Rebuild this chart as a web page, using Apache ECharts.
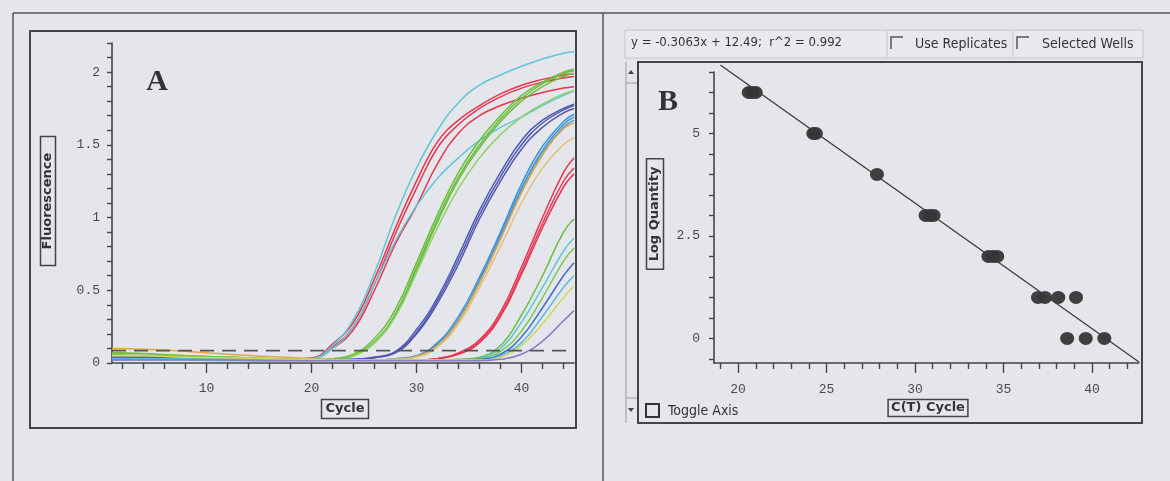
<!DOCTYPE html>
<html>
<head>
<meta charset="utf-8">
<script src="https://cdn.jsdelivr.net/npm/echarts@6/dist/echarts.min.js"></script>
<style>
  html, body { margin: 0; padding: 0; background: #e4e6eb; }
  #chart { width: 1170px; height: 481px; }
</style>
</head>
<body>
<div id="chart"></div>
<script>
// ---- Panel A: amplification curves (fluorescence per cycle) ----
const CYCLES = [1, 4, 8, 12, 16, 20, 22, 24, 26, 28, 30, 32, 34, 36, 38, 40, 42, 44, 45];

// highest standard (log quantity 6)
const R6A = [0.06,0.05,0.04,0.03,0.025,0.035, 0.13,0.28,0.58,0.93,1.25,1.52,1.67,1.77,1.85,1.91,1.95,1.98,1.99];
const R6B = [0.04,0.04,0.03,0.025,0.02,0.03, 0.11,0.25,0.54,0.89,1.20,1.48,1.64,1.75,1.83,1.89,1.93,1.96,1.97];
const R6C = [0.05,0.045,0.035,0.03,0.025,0.03, 0.10,0.23,0.50,0.82,1.08,1.37,1.58,1.70,1.77,1.82,1.86,1.89,1.90];
const C6A = [0.03,0.03,0.025,0.02,0.02,0.03, 0.12,0.30,0.62,1.01,1.34,1.60,1.79,1.91,1.98,2.04,2.09,2.13,2.14];
const C6B = [0.02,0.02,0.02,0.015,0.015,0.025, 0.10,0.25,0.54,0.84,1.08,1.27,1.41,1.53,1.62,1.69,1.77,1.84,1.87];
// log quantity 5
const G5A = [0.07,0.06,0.05,0.04,0.03,0.02, 0.03,0.06,0.17,0.37,0.69,1.02,1.31,1.53,1.70,1.84,1.93,2.00,2.02];
const G5B = [0.05,0.05,0.04,0.03,0.025,0.02, 0.025,0.055,0.15,0.34,0.66,0.99,1.28,1.50,1.68,1.82,1.92,1.99,2.01];
const G5C = [0.04,0.04,0.035,0.03,0.02,0.02, 0.025,0.05,0.14,0.33,0.64,0.97,1.26,1.48,1.66,1.80,1.90,1.97,1.99];
const G5D = [0.03,0.03,0.03,0.02,0.02,0.015, 0.02,0.05,0.14,0.32,0.62,0.93,1.20,1.41,1.57,1.69,1.78,1.85,1.87];
// log quantity 4
const B4A = [0.05,0.045,0.04,0.03,0.025,0.02, 0.02,0.025,0.04,0.08,0.23,0.45,0.74,1.05,1.31,1.53,1.67,1.75,1.78];
const B4B = [0.04,0.04,0.03,0.025,0.02,0.02, 0.02,0.02,0.035,0.075,0.21,0.43,0.71,1.02,1.28,1.50,1.65,1.74,1.77];
const B4C = [0.06,0.05,0.04,0.03,0.025,0.02, 0.02,0.025,0.04,0.07,0.20,0.41,0.68,0.99,1.25,1.47,1.62,1.72,1.75];
// log quantity 3
const A3A = [0.05,0.045,0.04,0.03,0.025,0.02, 0.02,0.02,0.02,0.03,0.05,0.14,0.32,0.59,0.90,1.23,1.49,1.66,1.71];
const A3B = [0.04,0.04,0.035,0.03,0.02,0.02, 0.02,0.02,0.02,0.025,0.045,0.13,0.30,0.57,0.88,1.20,1.46,1.64,1.69];
const A3C = [0.06,0.05,0.04,0.03,0.025,0.02, 0.02,0.02,0.02,0.025,0.045,0.12,0.29,0.55,0.86,1.18,1.44,1.62,1.67];
const O3  = [0.10,0.095,0.08,0.06,0.045,0.03, 0.025,0.02,0.02,0.025,0.045,0.12,0.29,0.55,0.85,1.17,1.43,1.61,1.65];
const T3  = [0.06,0.06,0.05,0.04,0.03,0.025, 0.02,0.02,0.02,0.025,0.04,0.11,0.27,0.52,0.80,1.10,1.34,1.50,1.55];
// log quantity 2
const R2A = [0.04,0.04,0.035,0.03,0.02,0.02, 0.02,0.02,0.02,0.02,0.02,0.03,0.07,0.16,0.35,0.66,1.00,1.31,1.41];
const R2B = [0.05,0.045,0.04,0.03,0.025,0.02, 0.02,0.02,0.02,0.02,0.02,0.03,0.065,0.15,0.33,0.63,0.96,1.25,1.34];
const R2C = [0.03,0.03,0.03,0.025,0.02,0.02, 0.02,0.02,0.02,0.02,0.02,0.03,0.06,0.14,0.32,0.61,0.93,1.21,1.30];
// log quantities 1 and 0
const L1 = [0.07,0.065,0.05,0.04,0.03,0.025, 0.02,0.02,0.02,0.02,0.02,0.02,0.025,0.04,0.12,0.33,0.60,0.90,0.99];
const L2 = [0.05,0.05,0.04,0.035,0.03,0.02, 0.02,0.02,0.02,0.02,0.02,0.02,0.02,0.035,0.10,0.28,0.52,0.77,0.86];
const L3 = [0.06,0.05,0.045,0.04,0.03,0.025, 0.02,0.02,0.02,0.02,0.02,0.02,0.02,0.03,0.08,0.22,0.45,0.70,0.79];
const L4 = [0.04,0.04,0.035,0.03,0.025,0.02, 0.02,0.02,0.02,0.02,0.02,0.02,0.02,0.025,0.06,0.18,0.38,0.60,0.69];
const L5 = [0.03,0.03,0.03,0.025,0.02,0.02, 0.02,0.02,0.02,0.02,0.02,0.02,0.02,0.02,0.05,0.14,0.32,0.52,0.60];
const L6 = [0.05,0.05,0.04,0.035,0.03,0.025, 0.02,0.02,0.02,0.02,0.02,0.02,0.02,0.02,0.04,0.12,0.27,0.45,0.53];
const L7 = [0.02,0.02,0.02,0.02,0.015,0.015, 0.015,0.015,0.015,0.015,0.015,0.015,0.015,0.015,0.025,0.06,0.15,0.29,0.36];

const THRESHOLD = 0.085;

const A_X_MAJOR = [10, 20, 30, 40];
const A_X_MINOR = [2, 4, 6, 8, 12, 14, 16, 18, 22, 24, 26, 28, 32, 34, 36, 38, 42, 44];
const A_Y_TICKS = [0, 0.1, 0.2, 0.3, 0.4, 0.5, 0.6, 0.7, 0.8, 0.9, 1, 1.1, 1.2, 1.3, 1.4, 1.5, 1.6, 1.7, 1.8, 1.9, 2, 2.1, 2.2];
const A_Y_LABELS = [0, 0.5, 1, 1.5, 2];

// ---- Panel B: standard curve ----
const STD_CT   = [20.6, 20.8, 21.0, 24.25, 24.4, 27.85, 30.6, 30.85, 31.05, 34.15, 34.4, 34.65, 36.95, 37.35, 38.1, 39.1, 38.6, 39.65, 40.7];
const STD_LOGQ = [6, 6, 6, 5, 5, 4, 3, 3, 3, 2, 2, 2, 1, 1, 1, 1, 0, 0, 0];
const FIT_SLOPE = -0.3063;
const FIT_INTERCEPT = 12.49;
const FIT_R2 = 0.992;
const FIT_X = [19, 42.66];

const B_X_MAJOR = [20, 25, 30, 35, 40];
const B_X_MINOR = [19, 21, 22, 23, 24, 26, 27, 28, 29, 31, 32, 33, 34, 36, 37, 38, 39, 41, 42];
const B_Y_TICKS = [-0.5, 0, 0.5, 1, 1.5, 2, 2.5, 3, 3.5, 4, 4.5, 5, 5.5, 6, 6.5];
const B_Y_LABELS = [0, 2.5, 5];

// curve colours
const RED = '#e8364e', CYAN = '#62c6d6', GREEN = '#6cbf3e', LGREEN = '#8fd06a',
      VIOLET = '#4f5cb6', AZURE = '#3f93da', ORANGE = '#e6a444', TAN = '#e2c27a',
      YELLOW = '#d6d65a', PURPLE = '#8a78c8', BLUE = '#3d6fd0';

const CURVES = [
  [R6A, RED], [R6B, RED], [R6C, RED], [C6A, CYAN], [C6B, CYAN],
  [G5A, GREEN], [G5B, GREEN], [G5C, GREEN], [G5D, LGREEN],
  [B4A, VIOLET], [B4B, VIOLET], [B4C, '#5a56b0'],
  [A3A, AZURE], [A3B, AZURE], [A3C, '#4aa0e0'], [O3, ORANGE], [T3, TAN],
  [R2A, RED], [R2B, '#e8406a'], [R2C, RED],
  [L1, GREEN], [L2, CYAN], [L3, '#7cc850'], [L4, BLUE], [L5, '#58b8e0'], [L6, YELLOW], [L7, PURPLE]
];

const AXIS_COLOR = '#454545';
const MONO = "'Liberation Mono', 'DejaVu Sans Mono', monospace";
const NARROW = "'Liberation Sans Narrow', 'DejaVu Sans Condensed', 'Liberation Sans', sans-serif";
const BOLD_SANS = "'DejaVu Sans', 'Liberation Sans', sans-serif";

function tickAxis(gridIndex, min, max, values, len, labels, margin) {
  return {
    type: 'value', gridIndex, min, max, position: 'bottom',
    axisLine: { show: !!labels, onZero: false, lineStyle: { color: AXIS_COLOR, width: 1.6 } },
    axisTick: { show: true, customValues: values, length: len, lineStyle: { color: AXIS_COLOR, width: 1.4 } },
    axisLabel: labels ? { customValues: labels, margin, color: '#4a4a4a', fontFamily: MONO, fontSize: 13 } : { show: false },
    splitLine: { show: false }
  };
}
function yTickAxis(gridIndex, min, max, values, labels, margin) {
  return {
    type: 'value', gridIndex, min, max, position: 'left',
    axisLine: { show: true, onZero: false, lineStyle: { color: AXIS_COLOR, width: 1.6 } },
    axisTick: { show: true, customValues: values, length: 5, lineStyle: { color: AXIS_COLOR, width: 1.4 } },
    axisLabel: { customValues: labels, margin, color: '#4a4a4a', fontFamily: MONO, fontSize: 13 },
    splitLine: { show: false }
  };
}

const series = CURVES.map(([vals, color]) => ({
  type: 'line', xAxisIndex: 0, yAxisIndex: 0,
  data: CYCLES.map((c, i) => [c, vals[i]]),
  smooth: 0.45, showSymbol: false, silent: true,
  lineStyle: { color, width: 1.5 }
}));

series.push({
  type: 'line', xAxisIndex: 0, yAxisIndex: 0,
  data: [[1, THRESHOLD], [45, THRESHOLD]],
  showSymbol: false, silent: true,
  lineStyle: { color: '#555', width: 1.6, type: [14, 8] }
});

series.push({
  type: 'line', xAxisIndex: 2, yAxisIndex: 1,
  data: FIT_X.map(x => [x, FIT_SLOPE * x + FIT_INTERCEPT]),
  showSymbol: false, silent: true, clip: false,
  lineStyle: { color: '#3a3a3a', width: 1.3 }
});
series.push({
  type: 'scatter', xAxisIndex: 2, yAxisIndex: 1,
  data: STD_CT.map((x, i) => [x, STD_LOGQ[i]]),
  symbol: 'circle', symbolSize: [14, 13], silent: true,
  itemStyle: { color: '#363636', opacity: 0.95 }
});

function boxedLabel(text, x, y, rot, pad) {
  return {
    type: 'text', x, y, rotation: rot,
    style: {
      text, fill: '#333', font: "bold 13px " + BOLD_SANS,
      align: 'center', verticalAlign: 'middle', textAlign: 'center', textVerticalAlign: 'middle',
      borderColor: '#444', borderWidth: 1.5, padding: pad
    }
  };
}
function line(x1, y1, x2, y2, color, w) {
  return { type: 'line', shape: { x1, y1, x2, y2 }, style: { stroke: color, lineWidth: w }, silent: true };
}

const fmt = v => (v < 0 ? '-' + Math.abs(v) : String(v));
const equation = 'y = ' + fmt(FIT_SLOPE) + 'x + ' + FIT_INTERCEPT + ';  r^2 = ' + FIT_R2;

const graphic = [
  // outer frame
  line(13, 13, 1170, 13, '#555', 1.5),
  line(13, 13, 13, 481, '#555', 1.5),
  line(603, 13, 603, 481, '#555', 1.5),
  // panel A box
  { type: 'rect', shape: { x: 30, y: 31, width: 546, height: 397 }, style: { fill: 'none', stroke: '#444', lineWidth: 2 } },
  { type: 'text', x: 157, y: 82, style: { text: 'A', fill: '#333', font: "bold 30px 'Liberation Serif', serif", align: 'center', verticalAlign: 'middle', textAlign: 'center', textVerticalAlign: 'middle' } },
  boxedLabel('Fluorescence', 48, 201, Math.PI / 2, [1, 16]),
  boxedLabel('Cycle', 345, 409, 0, [3, 4]),
  // panel B header strip
  { type: 'rect', shape: { x: 625, y: 30, width: 518, height: 28 }, style: { fill: '#e8e9ed', stroke: '#c4c5c9', lineWidth: 1 } },
  line(887, 31, 887, 57, '#c4c5c9', 1),
  line(1013, 31, 1013, 57, '#c4c5c9', 1),
  { type: 'text', x: 631, y: 43, style: { text: equation, fill: '#333', font: '13px ' + NARROW, align: 'left', verticalAlign: 'middle', textAlign: 'left', textVerticalAlign: 'middle' } },
  { type: 'polyline', shape: { points: [[891, 49], [891, 37], [903, 37]] }, style: { stroke: '#555', lineWidth: 1.5, fill: 'none' } },
  { type: 'text', x: 915, y: 44, style: { text: 'Use Replicates', fill: '#333', font: '14px ' + NARROW, align: 'left', verticalAlign: 'middle', textAlign: 'left', textVerticalAlign: 'middle' } },
  { type: 'polyline', shape: { points: [[1017, 49], [1017, 37], [1029, 37]] }, style: { stroke: '#555', lineWidth: 1.5, fill: 'none' } },
  { type: 'text', x: 1042, y: 44, style: { text: 'Selected Wells', fill: '#333', font: '14px ' + NARROW, align: 'left', verticalAlign: 'middle', textAlign: 'left', textVerticalAlign: 'middle' } },
  // panel B box and scroll strip
  { type: 'rect', shape: { x: 638, y: 62, width: 504, height: 361 }, style: { fill: 'none', stroke: '#444', lineWidth: 2 } },
  line(626, 62, 626, 423, '#9a9a9a', 1),
  line(626, 83, 637, 83, '#9a9a9a', 1),
  line(626, 398, 637, 398, '#9a9a9a', 1),
  { type: 'polygon', shape: { points: [[628, 74], [634, 74], [631, 70]] }, style: { fill: '#444' } },
  { type: 'polygon', shape: { points: [[628, 408], [634, 408], [631, 412]] }, style: { fill: '#444' } },
  { type: 'text', x: 668, y: 102, style: { text: 'B', fill: '#333', font: "bold 30px 'Liberation Serif', serif", align: 'center', verticalAlign: 'middle', textAlign: 'center', textVerticalAlign: 'middle' } },
  boxedLabel('Log Quantity', 655, 214, Math.PI / 2, [2, 8]),
  boxedLabel('C(T) Cycle', 928, 408, 0, [2, 3]),
  { type: 'rect', shape: { x: 646, y: 404, width: 13, height: 13 }, style: { fill: 'none', stroke: '#333', lineWidth: 2 } },
  { type: 'text', x: 668, y: 411, style: { text: 'Toggle Axis', fill: '#333', font: '14px ' + NARROW, align: 'left', verticalAlign: 'middle', textAlign: 'left', textVerticalAlign: 'middle' } }
];

const chart = echarts.init(document.getElementById('chart'), null, { renderer: 'canvas' });
chart.setOption({
  backgroundColor: '#e4e6eb',
  animation: false,
  grid: [
    { left: 112, top: 43, width: 462, height: 320 },
    { left: 714, top: 72, width: 425, height: 291 }
  ],
  xAxis: [
    tickAxis(0, 1, 45, A_X_MAJOR, 10, A_X_MAJOR, 19),
    tickAxis(0, 1, 45, A_X_MINOR, 6, null),
    tickAxis(1, 18.64, 42.66, B_X_MAJOR, 10, B_X_MAJOR, 20),
    tickAxis(1, 18.64, 42.66, B_X_MINOR, 6, null)
  ],
  yAxis: [
    yTickAxis(0, 0, 2.2, A_Y_TICKS, A_Y_LABELS, 12),
    yTickAxis(1, -0.6, 6.5, B_Y_TICKS, B_Y_LABELS, 14)
  ],
  series,
  graphic
});
</script>
</body>
</html>
